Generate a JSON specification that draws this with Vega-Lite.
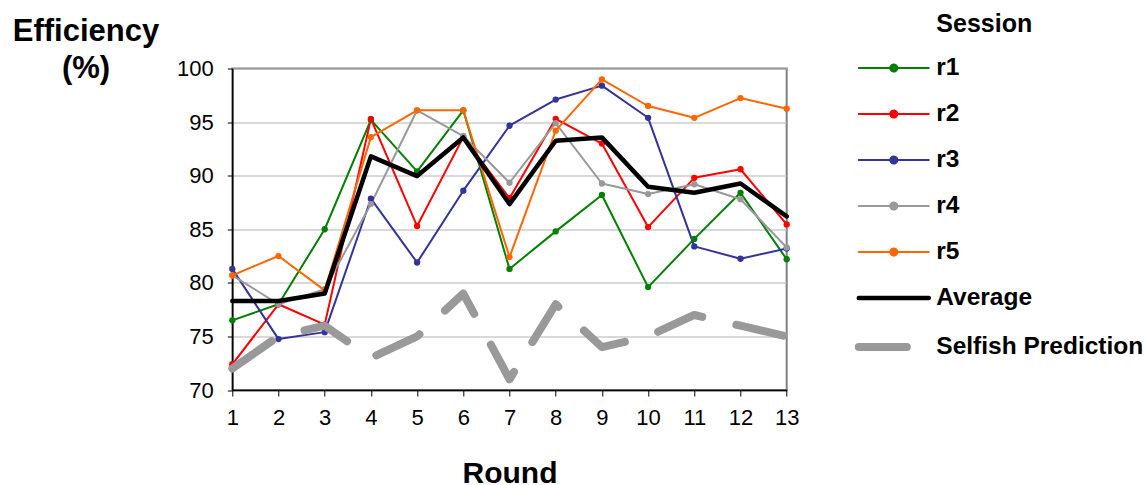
{
  "$schema": "https://vega.github.io/schema/vega-lite/v6.json",
  "width": 554.4,
  "height": 321.5,
  "autosize": {"type": "none"},
  "padding": {"left": 232.3, "top": 68.5, "right": 357.3, "bottom": 95},
  "background": "white",
  "config": {
    "font": "Liberation Sans",
    "view": {"stroke": "#808080", "strokeWidth": 2}
  },
  "data": {
    "values": [
      {"round": 1, "session": "r1", "eff": 76.5}, {"round": 2, "session": "r1", "eff": 78.0}, {"round": 3, "session": "r1", "eff": 85.0}, {"round": 4, "session": "r1", "eff": 95.2}, {"round": 5, "session": "r1", "eff": 90.4}, {"round": 6, "session": "r1", "eff": 96.1}, {"round": 7, "session": "r1", "eff": 81.3}, {"round": 8, "session": "r1", "eff": 84.8}, {"round": 9, "session": "r1", "eff": 88.2}, {"round": 10, "session": "r1", "eff": 79.6}, {"round": 11, "session": "r1", "eff": 84.1}, {"round": 12, "session": "r1", "eff": 88.4}, {"round": 13, "session": "r1", "eff": 82.2},
      {"round": 1, "session": "r2", "eff": 72.4}, {"round": 2, "session": "r2", "eff": 78.0}, {"round": 3, "session": "r2", "eff": 76.1}, {"round": 4, "session": "r2", "eff": 95.3}, {"round": 5, "session": "r2", "eff": 85.3}, {"round": 6, "session": "r2", "eff": 93.6}, {"round": 7, "session": "r2", "eff": 87.9}, {"round": 8, "session": "r2", "eff": 95.3}, {"round": 9, "session": "r2", "eff": 93.0}, {"round": 10, "session": "r2", "eff": 85.2}, {"round": 11, "session": "r2", "eff": 89.8}, {"round": 12, "session": "r2", "eff": 90.6}, {"round": 13, "session": "r2", "eff": 85.45},
      {"round": 1, "session": "r3", "eff": 81.3}, {"round": 2, "session": "r3", "eff": 74.75}, {"round": 3, "session": "r3", "eff": 75.4}, {"round": 4, "session": "r3", "eff": 87.85}, {"round": 5, "session": "r3", "eff": 81.9}, {"round": 6, "session": "r3", "eff": 88.6}, {"round": 7, "session": "r3", "eff": 94.66}, {"round": 8, "session": "r3", "eff": 97.1}, {"round": 9, "session": "r3", "eff": 98.4}, {"round": 10, "session": "r3", "eff": 95.4}, {"round": 11, "session": "r3", "eff": 83.4}, {"round": 12, "session": "r3", "eff": 82.25}, {"round": 13, "session": "r3", "eff": 83.2},
      {"round": 1, "session": "r4", "eff": 80.7}, {"round": 2, "session": "r4", "eff": 78.0}, {"round": 3, "session": "r4", "eff": 79.4}, {"round": 4, "session": "r4", "eff": 87.35}, {"round": 5, "session": "r4", "eff": 96.1}, {"round": 6, "session": "r4", "eff": 93.7}, {"round": 7, "session": "r4", "eff": 89.34}, {"round": 8, "session": "r4", "eff": 94.9}, {"round": 9, "session": "r4", "eff": 89.27}, {"round": 10, "session": "r4", "eff": 88.28}, {"round": 11, "session": "r4", "eff": 89.2}, {"round": 12, "session": "r4", "eff": 87.8}, {"round": 13, "session": "r4", "eff": 83.3},
      {"round": 1, "session": "r5", "eff": 80.7}, {"round": 2, "session": "r5", "eff": 82.5}, {"round": 3, "session": "r5", "eff": 79.3}, {"round": 4, "session": "r5", "eff": 93.6}, {"round": 5, "session": "r5", "eff": 96.1}, {"round": 6, "session": "r5", "eff": 96.1}, {"round": 7, "session": "r5", "eff": 82.4}, {"round": 8, "session": "r5", "eff": 94.2}, {"round": 9, "session": "r5", "eff": 98.98}, {"round": 10, "session": "r5", "eff": 96.5}, {"round": 11, "session": "r5", "eff": 95.4}, {"round": 12, "session": "r5", "eff": 97.24}, {"round": 13, "session": "r5", "eff": 96.25},
      {"round": 1, "session": "Average", "eff": 78.3}, {"round": 2, "session": "Average", "eff": 78.3}, {"round": 3, "session": "Average", "eff": 79.0}, {"round": 4, "session": "Average", "eff": 91.8}, {"round": 5, "session": "Average", "eff": 89.96}, {"round": 6, "session": "Average", "eff": 93.57}, {"round": 7, "session": "Average", "eff": 87.35}, {"round": 8, "session": "Average", "eff": 93.26}, {"round": 9, "session": "Average", "eff": 93.57}, {"round": 10, "session": "Average", "eff": 88.97}, {"round": 11, "session": "Average", "eff": 88.4}, {"round": 12, "session": "Average", "eff": 89.27}, {"round": 13, "session": "Average", "eff": 86.2},
      {"round": 1, "session": "Selfish Prediction", "eff": 72}, {"round": 2, "session": "Selfish Prediction", "eff": 75}, {"round": 3, "session": "Selfish Prediction", "eff": 76}, {"round": 4, "session": "Selfish Prediction", "eff": 73}, {"round": 5, "session": "Selfish Prediction", "eff": 75}, {"round": 6, "session": "Selfish Prediction", "eff": 79}, {"round": 7, "session": "Selfish Prediction", "eff": 71}, {"round": 8, "session": "Selfish Prediction", "eff": 78}, {"round": 9, "session": "Selfish Prediction", "eff": 74}, {"round": 10, "session": "Selfish Prediction", "eff": 75}, {"round": 11, "session": "Selfish Prediction", "eff": 77}, {"round": 12, "session": "Selfish Prediction", "eff": 76}, {"round": 13, "session": "Selfish Prediction", "eff": 75}
    ]
  },
  "encoding": {
    "x": {
      "field": "round", "type": "quantitative",
      "scale": {"domain": [1, 13], "nice": false, "zero": false},
      "axis": {
        "title": "Round", "titleFontSize": 30, "titleFontWeight": "bold", "titleColor": "black",
        "titleBaseline": "alphabetic", "titleY": 92,
        "values": [1, 2, 3, 4, 5, 6, 7, 8, 9, 10, 11, 12, 13], "format": "d",
        "labelFontSize": 22, "labelColor": "black", "labelPadding": 11, "labelFlush": false, "labelOverlap": false,
        "grid": false, "domainColor": "black", "domainWidth": 1.5, "tickColor": "black", "tickSize": 6, "tickWidth": 1
      }
    },
    "y": {
      "field": "eff", "type": "quantitative",
      "scale": {"domain": [70, 100], "nice": false, "zero": false},
      "axis": {
        "title": ["Efficiency", "(%)"], "titleAngle": 0, "titleAlign": "center", "titleBaseline": "alphabetic",
        "titleX": -146.8, "titleY": -28.5, "titleFontSize": 31, "titleFontWeight": "bold", "titleColor": "black", "titleLineHeight": 37,
        "values": [70, 75, 80, 85, 90, 95, 100],
        "labelFontSize": 22, "labelColor": "black", "labelPadding": 14, "labelFlush": false,
        "grid": true, "gridColor": "#b3b3b3", "gridWidth": 1.2,
        "domainColor": "black", "domainWidth": 1.5, "tickColor": "black", "tickSize": 5
      }
    }
  },
  "layer": [
    {
      "transform": [{"filter": "indexof(['r1','r2','r3','r4','r5'], datum.session) >= 0"}],
      "mark": {"type": "line", "strokeJoin": "round", "strokeWidth": 2},
      "encoding": {
        "color": {
          "field": "session", "type": "nominal",
          "scale": {"domain": ["r1", "r2", "r3", "r4", "r5", "Average", "Selfish Prediction"], "range": ["#008000", "#ff0000", "#333399", "#999999", "#ff6600", "#000000", "#999999"]},
          "legend": {
            "title": "Session", "orient": "none", "legendX": 649.25, "legendY": -57,
            "titleFontSize": 25, "titleFontWeight": "bold", "titleColor": "black", "titlePadding": 19.3,
            "labelFontSize": 24.5, "labelFontWeight": "bold", "labelColor": "black", "labelOffset": 30.25, "labelLimit": 400,
            "symbolSize": 100, "rowPadding": 21, "padding": 0, "symbolOffset": 0,
            "encode": {
              "symbols": {"update": {
                "shape": {"signal": "indexof(['Average','Selfish Prediction'], datum.value) >= 0 ? 'M-7,0L7,0' : 'M-7,0L7,0M0.7,0A0.7,0.7,0,1,1,-0.7,0A0.7,0.7,0,1,1,0.7,0Z'"},
                "fill": {"scale": "color", "field": "value"},
                "stroke": {"scale": "color", "field": "value"},
                "fillOpacity": {"value": 1},
                "strokeOpacity": {"value": 1},
                "strokeWidth": {"signal": "datum.value == 'Selfish Prediction' ? 8 : datum.value == 'Average' ? 4.5 : 2"},
                "strokeDash": {"signal": "datum.value == 'Selfish Prediction' ? [48, 35] : [1, 0]"},
                "strokeCap": {"value": "round"}
              }},
              "title": {"update": {"dx": {"value": 54.75}}}
            }
          }
        }
      }
    },
    {
      "transform": [{"filter": "indexof(['r1','r2','r3','r4','r5'], datum.session) >= 0"}],
      "mark": {"type": "point", "filled": true, "size": 40, "opacity": 1},
      "encoding": {
        "color": {"field": "session", "type": "nominal", "legend": null}
      }
    },
    {
      "transform": [{"filter": "datum.session == 'Average'"}],
      "mark": {"type": "line", "strokeJoin": "round", "strokeCap": "round", "strokeWidth": 4.5},
      "encoding": {
        "color": {"field": "session", "type": "nominal"}
      }
    },
    {
      "transform": [{"filter": "datum.session == 'Selfish Prediction'"}],
      "mark": {"type": "line", "strokeJoin": "round", "strokeCap": "round", "strokeWidth": 8, "strokeDash": [48, 35]},
      "encoding": {
        "color": {"field": "session", "type": "nominal"}
      }
    }
  ]
}
